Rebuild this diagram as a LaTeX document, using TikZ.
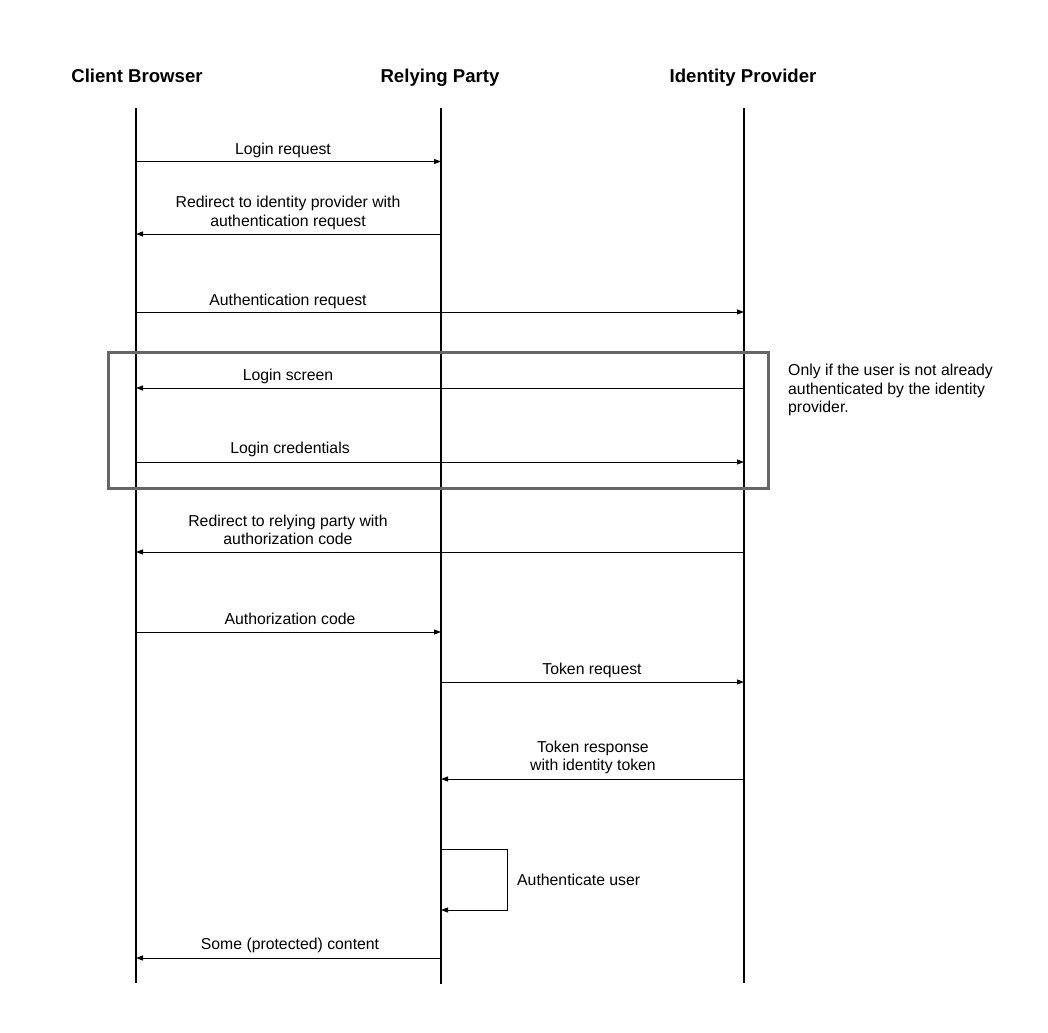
\documentclass[tikz,border=0pt]{standalone}
\usepackage{fontspec}
\setmainfont{Liberation Sans}
\usetikzlibrary{arrows.meta}
\definecolor{framegray}{HTML}{666666}
\begin{document}
\begin{tikzpicture}[x=1pt,y=-1pt,
  head/.style={font=\fontsize{18.6}{22}\selectfont\bfseries, anchor=base, inner sep=0},
  lifeline/.style={line width=2pt, black},
  msg/.style={line width=1pt, black, -{Triangle[length=7pt,width=5pt]}},
  lbl/.style={font=\fontsize{15.8}{18.5}\selectfont, align=center, anchor=south,
              inner sep=0, text depth=0pt},
  note/.style={font=\fontsize{15.8}{18.6}\selectfont, align=left, anchor=south west,
               inner sep=0, text depth=0pt},
  optframe/.style={line width=3pt, framegray}]
\useasboundingbox (0,0) rectangle (1048,1032);

% participants
\node[head] (cb) at (137,83) {Client Browser};
\node[head] (rp) at (440,83) {Relying Party};
\node[head] (idp) at (743,83) {Identity Provider};

% lifelines
\coordinate (cbT) at (136,108);  \coordinate (cbB) at (136,983);
\coordinate (rpT) at (441,108);  \coordinate (rpB) at (441,984);
\coordinate (idT) at (744,108);  \coordinate (idB) at (744,983);
\draw[lifeline] (cbT) -- (cbB);
\draw[lifeline] (rpT) -- (rpB);
\draw[lifeline] (idT) -- (idB);

% optional section frame
\coordinate (frTL) at (108,352);
\coordinate (frBR) at (768,488);
\draw[optframe] (frTL) rectangle (frBR);
\node[note] (optnote) at (788,413) {Only if the user is not already\\authenticated by the identity\\provider.};

% message end points
\coordinate (a1) at (136,161.5); \coordinate (b1) at (441,161.5);
\coordinate (a2) at (441,234);   \coordinate (b2) at (136,234);
\coordinate (a3) at (136,312);   \coordinate (b3) at (744,312);
\coordinate (a4) at (744,388);   \coordinate (b4) at (136,388);
\coordinate (a5) at (136,462);   \coordinate (b5) at (744,462);
\coordinate (a6) at (744,552);   \coordinate (b6) at (136,552);
\coordinate (a7) at (136,632);   \coordinate (b7) at (441,632);
\coordinate (a8) at (441,682);   \coordinate (b8) at (744,682);
\coordinate (a9) at (744,779);   \coordinate (b9) at (441,779);
\coordinate (a10) at (441,849);  \coordinate (c10) at (507,849);
\coordinate (d10) at (507,910);  \coordinate (b10) at (441,910);
\coordinate (a11) at (441,958);  \coordinate (b11) at (136,958);

% messages
\draw[msg] (a1) -- (b1);
\node[lbl] (l1) at (283,154.5) {Login request};
\draw[msg] (a2) -- (b2);
\node[lbl] (l2) at (288,226.5) {Redirect to identity provider with\\authentication request};
\draw[msg] (a3) -- (b3);
\node[lbl] (l3) at (288,306) {Authentication request};
\draw[msg] (a4) -- (b4);
\node[lbl] (l4) at (288,380.5) {Login screen};
\draw[msg] (a5) -- (b5);
\node[lbl] (l5) at (290,454) {Login credentials};
\draw[msg] (a6) -- (b6);
\node[lbl] (l6) at (288,545) {Redirect to relying party with\\authorization code};
\draw[msg] (a7) -- (b7);
\node[lbl] (l7) at (290,624.5) {Authorization code};
\draw[msg] (a8) -- (b8);
\node[lbl] (l8) at (592,674.5) {Token request};
\draw[msg] (a9) -- (b9);
\node[lbl] (l9) at (593,771) {Token response\\with identity token};
\draw[msg] (a10) -- (c10) -- (d10) -- (b10);
\node[lbl, anchor=base west, text depth=] (l10) at (517,885) {Authenticate user};
\draw[msg] (a11) -- (b11);
\node[lbl] (l11) at (290,950) {Some (protected) content};
\end{tikzpicture}
\end{document}
